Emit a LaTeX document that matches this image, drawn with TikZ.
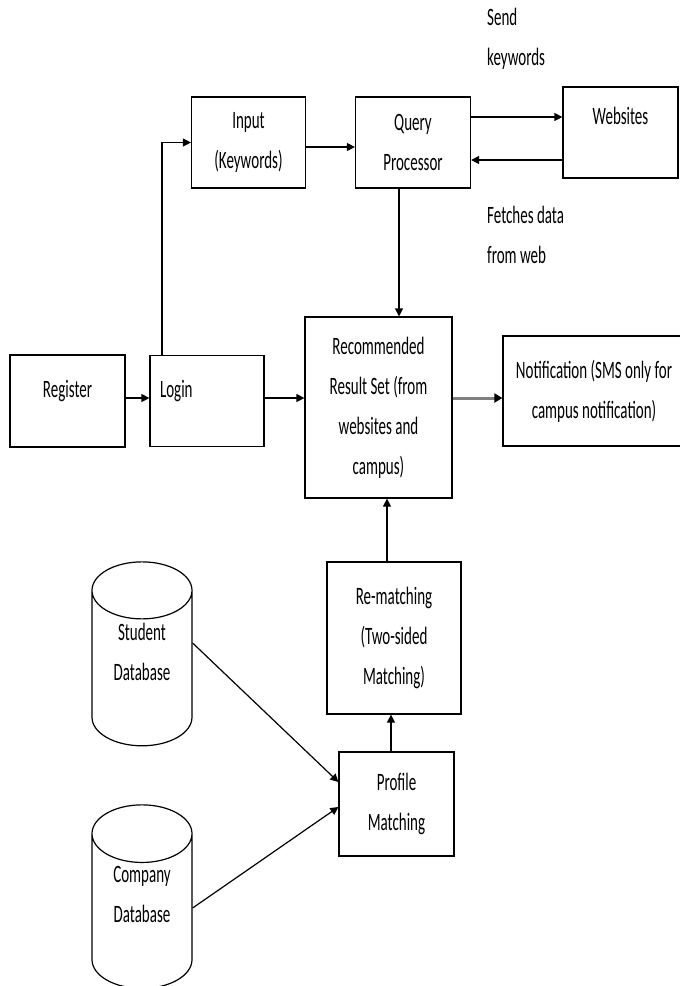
\documentclass[tikz,border=0pt]{standalone}
\usepackage{fontspec}
\setmainfont{Carlito}[FakeStretch=0.6]
\usetikzlibrary{shapes.geometric,arrows.meta,positioning,calc}

\begin{document}
\begin{tikzpicture}[x=1pt, y=-1pt,
  every node/.style={font=\fontsize{25}{40}\selectfont},
  block/.style={draw, rectangle, line width=1.2pt, align=center, inner sep=4pt},
  database/.style={draw, cylinder, shape border rotate=90, aspect=0.9, line width=1.2pt, align=center, minimum width=100pt, minimum height=180pt, text depth=44pt},
  note/.style={align=left, inner sep=0pt, anchor=north west},
  arrow/.style={-{Triangle[length=8pt, width=8pt]}, line width=1.2pt},
  grayarrow/.style={-{Triangle[length=8pt, width=9pt, color=black]}, draw=black!50, line width=3pt}
]
\clip (0,0) rectangle (680,986);

% Top row
\node[block, minimum width=114pt, minimum height=91pt] (input) at (248.5,142.5) {Input\\(Keywords)};
\node[block, minimum width=115pt, minimum height=91pt] (query) at (413,142.5) {Query\\Processor};
\node[block, minimum width=115pt, minimum height=91pt, text height=18pt, text depth=34pt] (websites) at (620.5,132.5) {Websites};
\node[note] (send) at (487,8) {Send\\keywords};
\node[note] (fetch) at (487,206) {Fetches data\\from web};

% Middle row
\node[block, minimum width=115pt, minimum height=92pt, text height=17pt, text depth=25pt] (register) at (67.5,401) {Register};
\node[block, minimum width=114pt, minimum height=91pt, text width=94pt, align=left, inner xsep=10pt, text height=17pt, text depth=25pt] (login) at (207,401) {Login};
\node[block, minimum width=147pt, minimum height=181pt] (result) at (378.5,407.5) {Recommended\\Result Set (from\\websites and\\campus)};
\node[block, minimum width=182pt, minimum height=110pt] (notify) at (594,391) {Notification (SMS only for\\campus notification)};

% Bottom part
\node[block, minimum width=134pt, minimum height=152pt] (rematch) at (394,638) {Re-matching\\(Two-sided\\Matching)};
\node[block, minimum width=115pt, minimum height=104pt] (profile) at (396.5,804) {Profile\\Matching};
\node[database] (student) at (142,673.5) {Student\\Database};
\node[database, minimum height=178pt] (company) at (142,916.5) {Company\\Database};

% Connections
\draw[arrow] ([yshift=3pt]register.east) -- ([yshift=3pt]login.west);
\draw[arrow] ([yshift=3pt]login.east) -- ([yshift=3pt]login.east -| result.west);
\draw[grayarrow] ([yshift=9.5pt]result.east) -- ([yshift=9.5pt]result.east -| notify.west);
\draw[arrow] ([xshift=-45pt]login.north) |- (input.west);
\draw[arrow] ([yshift=-4.5pt]input.east) -- ([yshift=-4.5pt]query.west);
\draw[arrow] ([yshift=25.5pt]query.east) -- ([yshift=25.5pt]query.east -| websites.west);
\draw[arrow] ([yshift=-17.5pt]query.east -| websites.west) -- ([yshift=-17.5pt]query.east);
\draw[arrow] ([xshift=-14pt]query.south) -- ([xshift=-14pt]query.south |- result.north);
\draw[arrow] ([xshift=-5.5pt]profile.north) -- ([xshift=-5.5pt]profile.north |- rematch.south);
\draw[arrow] ([xshift=-7pt]rematch.north) -- ([xshift=-7pt]rematch.north |- result.south);
\draw[arrow] ([yshift=30.5pt]student.east) -- ([yshift=22pt]profile.west);
\draw[arrow] ([yshift=8.5pt]company.east) -- ([yshift=-3pt]profile.west);

\end{tikzpicture}
\end{document}
